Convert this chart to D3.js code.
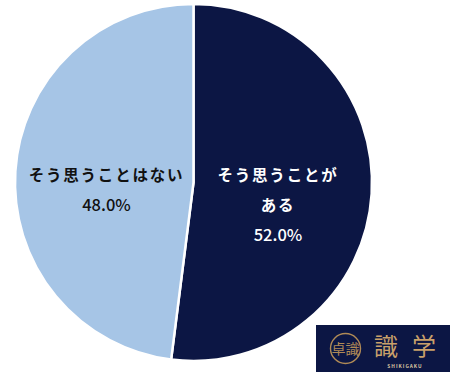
<!DOCTYPE html>
<html>
<head>
<meta charset="utf-8">
<script src="https://cdn.jsdelivr.net/npm/d3@7"></script>
<style>
  html, body { margin: 0; padding: 0; background: #fff; }
  text { font-family: "Noto Sans CJK JP", sans-serif; }
</style>
</head>
<body>
<div id="chart"></div>
<script>
const categories = ['そう思うことがある', 'そう思うことはない'];
const values = [52.0, 48.0];
const valueLabels = ['52.0%', '48.0%'];
const labelLines = [['そう思うことが', 'ある'], ['そう思うことはない']];
const colors = ['#0c1644', '#a6c5e6'];

const width = 467, height = 380;
const radius = 178.5;

const svg = d3.select('#chart')
    .append('svg')
    .attr('width', width)
    .attr('height', height)
    .style('display', 'block');

const g = svg.append('g')
    .attr('transform', 'translate(193.5,182.5)');

const pie = d3.pie().sort(null).value(d => d);
const arc = d3.arc().innerRadius(0).outerRadius(radius);

const slices = pie(values);

g.selectAll('path')
    .data(slices)
    .enter()
    .append('path')
    .attr('d', arc)
    .attr('fill', (d, i) => colors[i])
    .attr('stroke', '#fff')
    .attr('stroke-width', 2.5);

const lineGap = 30;

slices.forEach((s, i) => {
    const lines = labelLines[i].concat([valueLabels[i]]);
    lines.forEach((t, j) => {
        const isValue = j === lines.length - 1;
        g.append('text')
            .attr('x', i === 0 ? 84.5 : -87)
            .attr('y', -2 + j * lineGap)
            .attr('text-anchor', 'middle')
            .attr('fill', i === 0 ? '#ffffff' : '#111111')
            .style('font-size', isValue ? '16.5px' : '15.5px')
            .style('font-weight', isValue ? 500 : 700)
            .style('letter-spacing', isValue ? '0' : '1.8px')
            .text(t);
    });
});

// logo box, bottom right
const logo = svg.append('g').attr('transform', 'translate(316,325)');
logo.append('rect')
    .attr('width', 134)
    .attr('height', 47)
    .attr('fill', '#0c1644');
logo.append('circle')
    .attr('cx', 29.5)
    .attr('cy', 23.5)
    .attr('r', 15)
    .attr('fill', 'none')
    .attr('stroke', '#b08a56')
    .attr('stroke-width', 1.4);
logo.append('text')
    .attr('x', 29.5)
    .attr('y', 29)
    .attr('text-anchor', 'middle')
    .attr('fill', '#b08a56')
    .style('font-size', '14px')
    .text('卓識');
logo.append('text')
    .attr('x', 58)
    .attr('y', 29.5)
    .attr('fill', '#c9a06a')
    .style('font-size', '24px')
    .text('識');
logo.append('text')
    .attr('x', 96)
    .attr('y', 29.5)
    .attr('fill', '#c9a06a')
    .style('font-size', '24px')
    .text('学');
logo.append('text')
    .attr('x', 89)
    .attr('y', 43)
    .attr('text-anchor', 'middle')
    .attr('fill', '#d8c4a0')
    .style('font-size', '4.8px')
    .style('font-weight', 700)
    .style('letter-spacing', '1px')
    .text('SHIKIGAKU');
</script>
</body>
</html>
